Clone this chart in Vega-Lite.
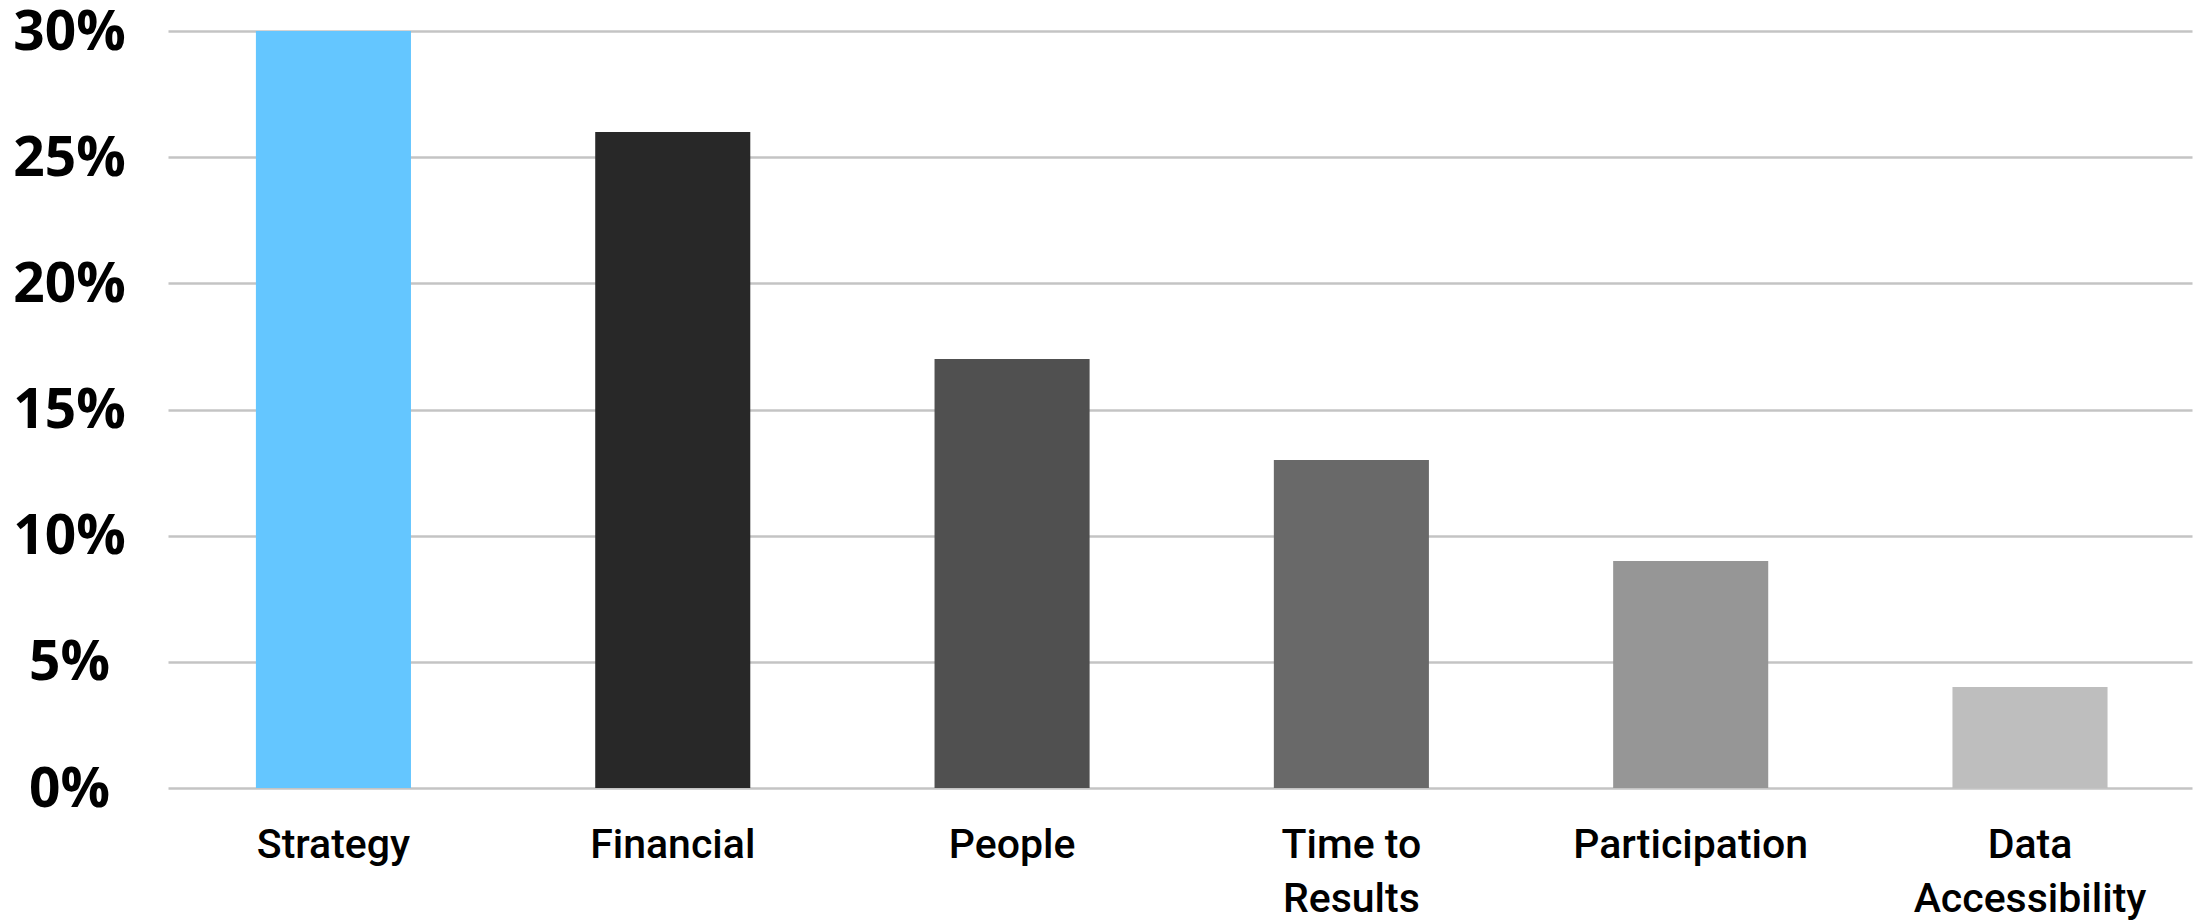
{
  "$schema": "https://vega.github.io/schema/vega-lite/v6.json",
  "width": 2024,
  "height": 757,
  "autosize": {"type": "none"},
  "padding": {"left": 168, "top": 31, "right": 3, "bottom": 132},
  "background": "white",
  "data": {
    "values": [
      {"factor": "Strategy", "share": 0.30},
      {"factor": "Financial", "share": 0.26},
      {"factor": "People", "share": 0.17},
      {"factor": "Time to Results", "share": 0.13},
      {"factor": "Participation", "share": 0.09},
      {"factor": "Data Accessibility", "share": 0.04}
    ]
  },
  "mark": {"type": "bar"},
  "encoding": {
    "x": {
      "field": "factor",
      "type": "nominal",
      "sort": null,
      "scale": {"paddingInner": 0.543, "paddingOuter": 0.254, "align": 0.51},
      "axis": {
        "title": null,
        "domain": false,
        "ticks": false,
        "tickSize": 0,
        "grid": false,
        "labelAngle": 0,
        "labelFont": "Roboto",
        "labelFontWeight": 500,
        "labelFontSize": 41,
        "labelColor": "#000000",
        "labelPadding": 37,
        "labelLineHeight": 54,
        "labelLimit": 0,
        "labelExpr": "datum.value == 'Time to Results' ? ['Time to', 'Results'] : datum.value == 'Data Accessibility' ? ['Data', 'Accessibility'] : datum.label"
      }
    },
    "y": {
      "field": "share",
      "type": "quantitative",
      "scale": {"domain": [0, 0.3], "nice": false},
      "axis": {
        "title": null,
        "format": ".0%",
        "values": [0, 0.05, 0.1, 0.15, 0.2, 0.25, 0.3],
        "domain": false,
        "ticks": false,
        "tickSize": 0,
        "grid": true,
        "gridColor": "#C4C4C4",
        "gridWidth": 2.5,
        "labelFont": "Open Sans",
        "labelFontWeight": "bold",
        "labelFontSize": 55,
        "labelColor": "#000000",
        "labelAlign": "center",
        "labelPadding": 99,
        "labelOffset": 1
      }
    },
    "color": {
      "field": "factor",
      "type": "nominal",
      "legend": null,
      "scale": {
        "domain": ["Strategy", "Financial", "People", "Time to Results", "Participation", "Data Accessibility"],
        "range": ["#64C6FF", "#282828", "#505050", "#696969", "#969696", "#BEBEBE"]
      }
    }
  },
  "config": {"view": {"stroke": null}}
}
